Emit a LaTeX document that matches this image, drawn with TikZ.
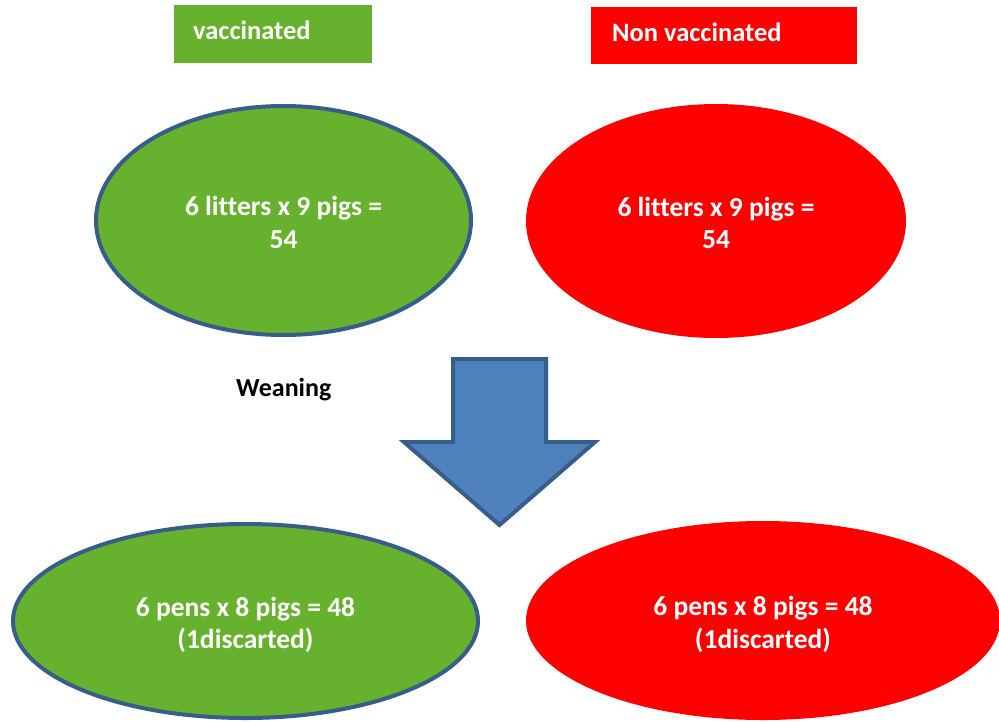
\documentclass[tikz,border=0pt]{standalone}
\usepackage{fontspec}
\setmainfont{Carlito}[Ligatures=NoCommon]
\usetikzlibrary{shapes.geometric}
\definecolor{vgreen}{RGB}{102,178,46}
\definecolor{nvred}{RGB}{255,0,0}
\definecolor{abluefill}{RGB}{79,129,189}
\definecolor{aborder}{RGB}{56,93,138}
\tikzset{
  lbl/.style={font=\fontsize{26.5}{33}\selectfont\bfseries, text=white, inner sep=0pt},
  ovaltext/.style={font=\fontsize{27.5}{32.5}\selectfont\bfseries, text=white, inner sep=0pt, align=center},
  oval/.style={ellipse, inner sep=0pt},
  greenoval/.style={oval, fill=vgreen, draw=aborder, line width=4},
  redoval/.style={oval, fill=nvred, draw=none},
}
\begin{document}
\begin{tikzpicture}[x=1pt,y=-1pt]
\useasboundingbox (0,0) rectangle (999,721);
% header boxes
\fill[vgreen] (174,5) rectangle (372,63);
\node[lbl, anchor=base west] (vac) at (193,39) {vaccinated};
\fill[nvred] (591,7) rectangle (857,64);
\node[lbl, anchor=base west] (nvac) at (612,41) {Non vaccinated};
% top ellipses
\node[greenoval, minimum width=375, minimum height=229] (gtop) at (283.5,220.5) {};
\node[ovaltext, yshift=-2pt] (gtoptxt) at (gtop.center) {6 litters x 9 pigs =\\54};
\node[redoval, minimum width=380, minimum height=234] (rtop) at (716,221) {};
\node[ovaltext, yshift=-2pt] (rtoptxt) at (rtop.center) {6 litters x 9 pigs =\\54};
% weaning label
\node[font=\fontsize{26}{33}\selectfont\bfseries, text=black, inner sep=0pt, anchor=base west] (wean) at (236,396) {Weaning};
% arrow
\draw[fill=abluefill, draw=aborder, line width=4, line join=miter]
  (453,359) -- (546,359) -- (546,442) -- (595,442) -- (499.5,525) -- (404,442) -- (453,442) -- cycle;
% bottom ellipses
\node[greenoval, minimum width=465, minimum height=194] (gbot) at (245.5,621) {};
\node[ovaltext, yshift=-4pt] (gbottxt) at (gbot.center) {6 pens x 8 pigs = 48\\(1discarted)};
\node[redoval, minimum width=474, minimum height=199] (rbot) at (763,620.5) {};
\node[ovaltext, yshift=-4pt] (rbottxt) at (rbot.center) {6 pens x 8 pigs = 48\\(1discarted)};
\end{tikzpicture}
\end{document}
